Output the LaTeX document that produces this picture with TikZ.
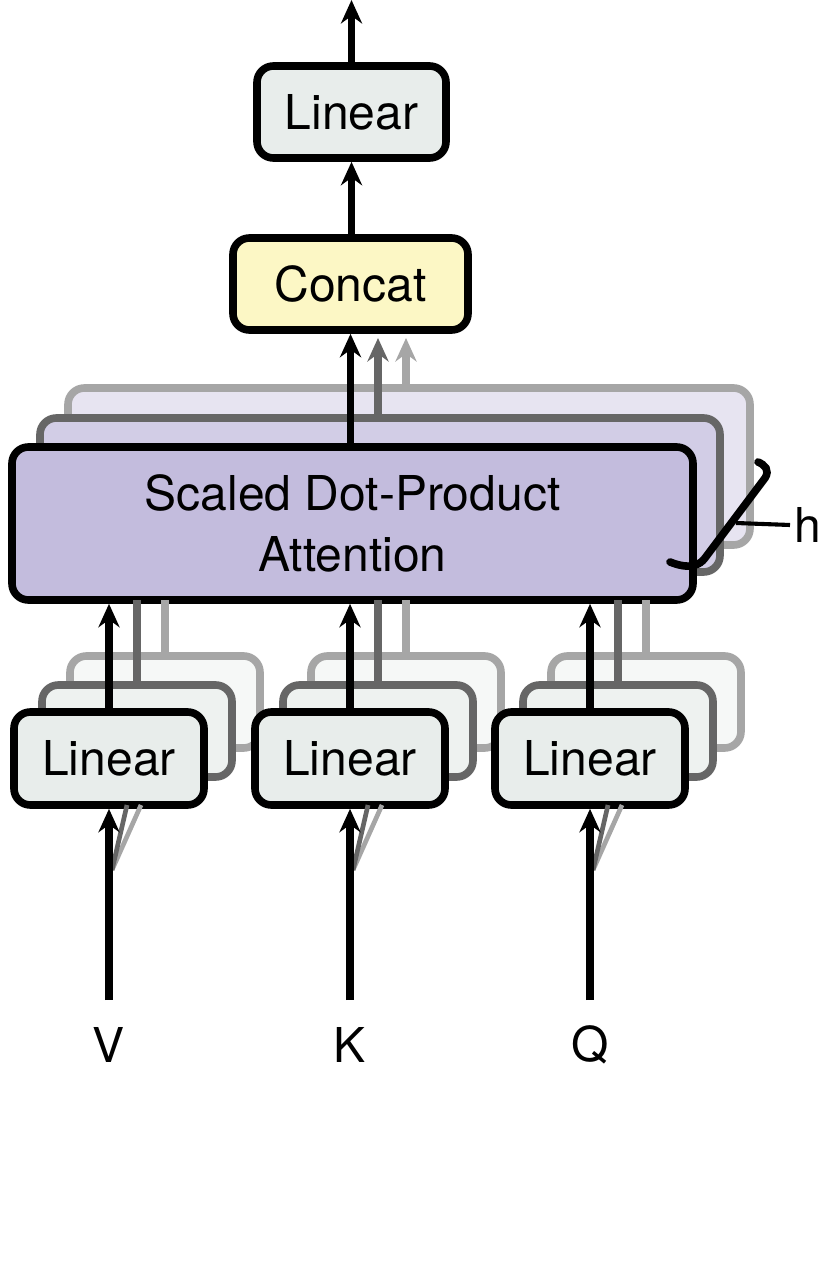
\documentclass[tikz,border=0pt]{standalone}
\usepackage{fontspec}
\setmainfont{TeX Gyre Heros}
\usetikzlibrary{arrows.meta}
\begin{document}
\begin{tikzpicture}[x=0.03cm,y=-0.03cm,
  lw/.style={line width=6.5pt},
  box/.style={lw,rounded corners=14pt,draw=black},
  arr/.style={lw,-{Stealth[length=20pt,width=18pt]}},
  txt/.style={font=\fontsize{41}{52}\selectfont}]
\useasboundingbox (0,0) rectangle (828,1271);
\definecolor{lin}{HTML}{E8EDEB}
\definecolor{cat}{HTML}{FCF7C5}
\definecolor{att}{HTML}{C3BCDD}
% attention back copies
\draw[box,draw=black!35,fill=att!40] (68,388) rectangle (750,545);
\draw[box,draw=black!60,fill=att!75] (40,418) rectangle (720,572);
\coordinate (g2) at (406,388); \coordinate (g2t) at (406,338);
\coordinate (g1) at (378,418); \coordinate (g1t) at (378,338);
\draw[arr,draw=black!35] (g2) -- (g2t);
\draw[arr,draw=black!60] (g1) -- (g1t);
\node[box,fill=att,minimum width=681*0.03cm,minimum height=153*0.03cm,txt,align=center] (A) at (352.5,523.5) {Scaled Dot-Product\\Attention};
% brace and h
\draw[lw,line cap=round] (670,562) .. controls (690,570) and (700,565) .. (705,558) -- (765,478) .. controls (770,470) and (765,465) .. (758,462);
\coordinate (hs) at (736,523);
\node[txt,anchor=west] (h) at (790,525) {h};
\draw[line width=3.5pt] (hs) -- (h.west);
% concat, top linear
\node[box,fill=cat,minimum width=235*0.03cm,minimum height=92*0.03cm,txt] (C) at (350.5,284) {Concat};
\node[box,fill=lin,minimum width=189*0.03cm,minimum height=92*0.03cm,txt] (L) at (351.5,112) {Linear};
\coordinate (out) at (351.5,0);
\draw[arr] (A.north -| C) -- (C.south);
\draw[arr] (C.north -| L) -- (L.south);
\draw[arr] (L.north) -- (out);
% bottom linears
\foreach \x/\lab/\n in {109/V/v,350/K/k,590/Q/q}{
  \draw[box,draw=black!35,fill=lin!40] (\x-39,656) rectangle (\x+151,748);
  \draw[box,draw=black!60,fill=lin!75] (\x-67,685) rectangle (\x+123,777);
  \draw[lw,draw=black!35] (\x+56,656) -- (\x+56,600);
  \draw[lw,draw=black!60] (\x+28,685) -- (\x+28,600);
  \node[box,fill=lin,minimum width=190*0.03cm,minimum height=93*0.03cm,txt] (\n) at (\x,758.5) {Linear};
  \node[txt] (\n i) at (\x,1045) {\lab};
  \coordinate (\n s) at (\x,1000);
  \coordinate (\n f) at (\x+3,870);
  \draw[line width=4pt,draw=black!35] (\n f) -- (\x+32,805);
  \draw[line width=4pt,draw=black!60] (\n f) -- (\x+18,805);
  \draw[arr] (\n s) -- (\n.south);
  \draw[arr] (\n.north) -- (\n.north |- A.south);
}
\end{tikzpicture}
\end{document}
